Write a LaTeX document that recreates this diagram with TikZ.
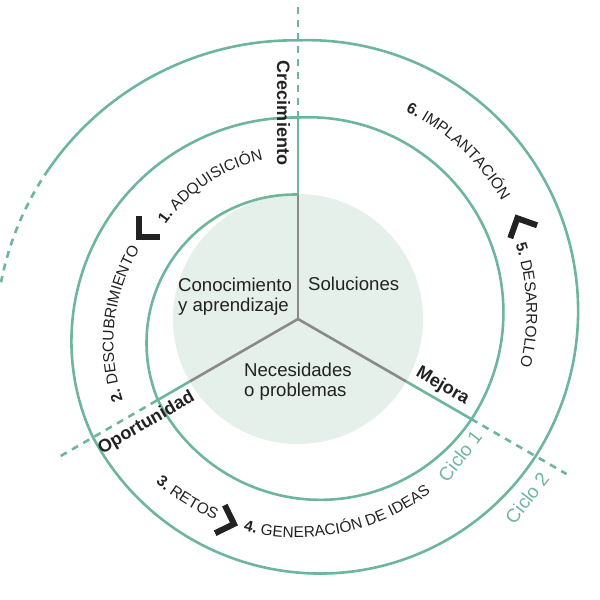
\documentclass[tikz,border=0pt]{standalone}
\usepackage{fontspec}
\setmainfont{Liberation Sans}
\usepackage{xcolor}
\usetikzlibrary{decorations.text}

\definecolor{cyclegreen}{RGB}{110,182,155}
\definecolor{corefill}{RGB}{228,240,233}
\definecolor{spokegrey}{RGB}{138,138,138}
\definecolor{ink}{RGB}{34,34,34}

\newcommand{\ringfont}{\fontsize{15.5}{16}\selectfont}

\tikzset{
  ring/.style={cyclegreen, line width=2.6pt},
  ringdash/.style={ring, dash pattern=on 7pt off 6pt},
  spoke/.style={spokegrey, line width=2.6pt},
  chevron/.style={ink, line width=6pt},
  phase/.style={text=ink, font=\fontsize{18}{20}\selectfont\bfseries, inner sep=0pt},
  core/.style={text=ink, font=\fontsize{18.6}{20}\selectfont, align=left, inner sep=0pt},
  cyclelabel/.style={text=cyclegreen, font=\fontsize{19}{20}\selectfont, inner sep=0pt},
  stage/.style={decorate, decoration={text along path, text align=center, text color=ink, text={#1}}},
}

\begin{document}
\begin{tikzpicture}[x=1pt, y=1pt]
    \useasboundingbox (0,0) rectangle (600,600);

    % Centres
    \coordinate (O) at (298,281);
    \coordinate (Ca) at (295,257);
    \coordinate (Cc) at (308,287.5);

    % Core circle
    \fill[corefill] (O) circle[radius=125];

    % Spokes
    \coordinate (up0) at ([shift={(90:125)}]O);
    \coordinate (up1) at ([shift={(90:201)}]O);
    \coordinate (up2) at ([shift={(90:312)}]O);
    \draw[spoke] (O) -- (up0);
    \draw[ring] (up0) -- (up1);
    \draw[ringdash] (up1) -- (up2);

    \coordinate (ll0) at ([shift={(210:125)}]O);
    \coordinate (ll1) at ([shift={(210:163)}]O);
    \coordinate (ll2) at ([shift={(210:277)}]O);
    \draw[spoke] (O) -- (ll0);
    \draw[ring] (ll0) -- (ll1);
    \draw[ringdash] (ll1) -- (ll2);

    \coordinate (lr0) at ([shift={(330:125)}]O);
    \coordinate (lr1) at ([shift={(330:200)}]O);
    \coordinate (lr2) at ([shift={(330:310)}]O);
    \draw[spoke] (O) -- (lr0);
    \draw[ring] (lr0) -- (lr1);
    \draw[ringdash] (lr1) -- (lr2);

    % Spiral (cycle 1 and cycle 2)
    \draw[ring] ([shift={(88.8:148.5)}]Ca)
        arc[start angle=88.8, end angle=202.4, radius=148.5]
        arc[start angle=206.7, end angle=326.7, radius=182]
        arc[start angle=327.25, end angle=452.9, radius=195]
        arc[start angle=89.2, end angle=204.95, radius=224]
        arc[start angle=207.7, end angle=327.55, radius=257]
        arc[start angle=327.9, end angle=452.1, radius=270.5]
        arc[start angle=89.4, end angle=145.4, radius=299] coordinate (sp7);
    \draw[ringdash] (sp7) arc[start angle=145.4, end angle=169, radius=299];

    % Core texts
    \node[core, anchor=base west] (know) at (178,288) {Conocimiento\\y aprendizaje};
    \node[core, anchor=base west] (sol) at (308,309) {Soluciones};
    \node[core, anchor=base west] (need) at (244,203) {Necesidades\\o problemas};

    % Spoke and cycle labels
    \node[phase, rotate=-90] (grow) at (283.5,487) {Crecimiento};
    \node[phase, rotate=30] (chance) at (146.5,177) {Oportunidad};
    \node[phase, rotate=-30] (better) at (442.5,214) {Mejora};
    \node[cyclelabel, rotate=52] (cyc1) at (460,144) {Ciclo 1};
    \node[cyclelabel, rotate=52] (cyc2) at (527,102) {Ciclo 2};

    % Stages along the rings
    \path[stage={|\ringfont\bfseries|1. |\ringfont\mdseries|ADQUISICIÓN}]
        ([shift={(163.5:162.5)}]O) arc[start angle=163.5, end angle=83.5, radius=162.5];
    \path[stage={|\ringfont\bfseries|2. |\ringfont\mdseries|DESCUBRIMIENTO}]
        ([shift={(213.6:181.5)}]Ca) arc[start angle=213.6, end angle=133.6, radius=181.5];
    \path[stage={|\ringfont\bfseries|3. |\ringfont\mdseries|RETOS}]
        ([shift={(218.3:217)}]O) arc[start angle=218.3, end angle=258.3, radius=217];
    \path[stage={|\ringfont\bfseries|4. |\ringfont\mdseries|GENERACIÓN DE IDEAS}]
        ([shift={(246.5:218.5)}]O) arc[start angle=246.5, end angle=316.5, radius=218.5];
    \path[stage={|\ringfont\bfseries|5. |\ringfont\mdseries|DESARROLLO}]
        ([shift={(37:218.5)}]Cc) arc[start angle=37, end angle=-33, radius=218.5];
    \path[stage={|\ringfont\bfseries|6. |\ringfont\mdseries|IMPLANTACIÓN}]
        ([shift={(80:223.5)}]Cc) arc[start angle=80, end angle=14, radius=223.5];

    % Chevrons
    \coordinate (ch1) at (139.3,363.3);
    \draw[chevron] ([shift={(90:21)}]ch1) -- (ch1) -- ([shift={(0:21)}]ch1);
    \coordinate (ch2) at (234,76);
    \draw[chevron] ([shift={(116:21)}]ch2) -- (ch2) -- ([shift={(206:21)}]ch2);
    \coordinate (ch3) at (517.3,381.7);
    \draw[chevron] ([shift={(340.5:21)}]ch3) -- (ch3) -- ([shift={(250.5:21)}]ch3);
\end{tikzpicture}
\end{document}
